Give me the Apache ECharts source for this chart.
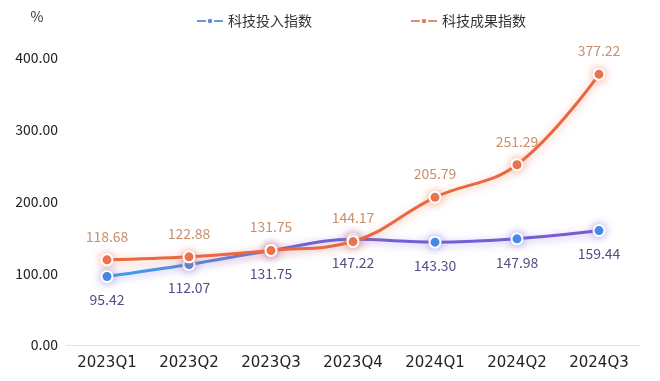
<!DOCTYPE html>
<html><head><meta charset="utf-8">
<script src="https://cdn.jsdelivr.net/npm/echarts@6/dist/echarts.min.js"></script>
<style>html,body{margin:0;padding:0;background:#fff}#c{width:660px;height:381px}</style>
</head><body><div id="c"></div>
<script>
const categories = ['2023Q1','2023Q2','2023Q3','2023Q4','2024Q1','2024Q2','2024Q3'];
const inputIndex = [95.42,112.07,131.75,147.22,143.30,147.98,159.44];
const outputIndex = [118.68,122.88,131.75,144.17,205.79,251.29,377.22];
const yTicks = [0,100,200,300,400];
const seriesNames = ['科技投入指数','科技成果指数'];

const font = '"Noto Sans CJK SC", "Noto Sans", sans-serif';
const chart = echarts.init(document.getElementById('c'));
chart.setOption({
  animation:false,
  textStyle:{fontFamily:font},
  legend:{top:9,left:191,itemGap:98,itemWidth:26,itemHeight:8,
    textStyle:{fontSize:14,color:'#333',fontFamily:font},
    data:[{name:seriesNames[0],itemStyle:{color:'#5d8fd6'},lineStyle:{color:'#6a9ad6'}},
          {name:seriesNames[1],itemStyle:{color:'#e07d5d'},lineStyle:{color:'#d9907a'}}]},
  grid:{left:66,right:20,top:58,bottom:36},
  xAxis:{type:'category',data:categories,boundaryGap:true,
    axisLine:{lineStyle:{color:'#e3e3e3',width:1}},axisTick:{show:false},
    axisLabel:{fontSize:15,color:'#222',margin:11,fontFamily:'"DejaVu Sans", sans-serif'}},
  yAxis:{type:'value',min:yTicks[0],max:yTicks[yTicks.length-1],interval:100,
    name:'%',nameLocation:'end',nameGap:34,nameTextStyle:{fontSize:14,color:'#333',align:'center',padding:[0,58,0,0]},
    splitLine:{show:false},axisLine:{show:false},axisTick:{show:false},
    axisLabel:{fontSize:14,color:'#222',margin:8,formatter:v=>v.toFixed(2)}},
  series:[
    {name:seriesNames[0],type:'line',smooth:0.4,data:inputIndex,symbol:'circle',symbolSize:11,
      lineStyle:{width:3,color:new echarts.graphic.LinearGradient(0,0,1,0,[{offset:0,color:'#3aa6e6'},{offset:0.4,color:'#6b63d8'},{offset:1,color:'#7a5ad2'}]),
        shadowColor:'rgba(140,110,230,0.55)',shadowBlur:8,shadowOffsetY:2},
      itemStyle:{color:'#3d8fe6',borderColor:'#fff',borderWidth:2,shadowColor:'rgba(120,110,220,0.6)',shadowBlur:8},
      label:{show:true,position:'bottom',distance:10,color:'#5b4a86',fontSize:14,formatter:p=>p.value.toFixed(2)},z:2},
    {name:seriesNames[1],type:'line',smooth:0.4,data:outputIndex,symbol:'circle',symbolSize:11,
      lineStyle:{width:3,color:'#e9683f',shadowColor:'rgba(240,120,80,0.5)',shadowBlur:8,shadowOffsetY:2},
      itemStyle:{color:'#e8714a',borderColor:'#fff',borderWidth:2,shadowColor:'rgba(240,130,90,0.6)',shadowBlur:8},
      label:{show:true,position:'top',distance:10,color:'#c8906c',fontSize:14,formatter:p=>p.value.toFixed(2)},z:3}
  ]
});
</script></body></html>
